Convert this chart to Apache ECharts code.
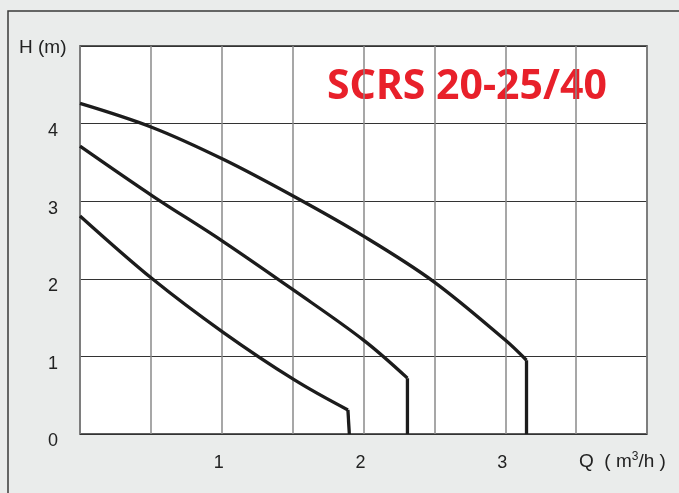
<!DOCTYPE html>
<html>
<head>
<meta charset="utf-8">
<title>SCRS 20-25/40</title>
<script src="https://cdn.jsdelivr.net/npm/echarts@6/dist/echarts.min.js"></script>
<style>
html, body { margin: 0; padding: 0; background: #eaeceb; }
#main { width: 679px; height: 493px; }
</style>
</head>
<body>
<div id="main"></div>
<script>
// tick labels that are printed
var xTickLabels = ['1', '2', '3'];
var yTickLabels = ['0', '1', '2', '3', '4'];

// [Q (m3/h), H (m)]
var speed3 = [[0, 4.26], [0.51, 3.95], [1.01, 3.54], [1.51, 3.06], [2.0, 2.55], [2.49, 1.97], [3.0, 1.21], [3.15, 0.95]];
var speed3Drop = [[3.15, 0.95], [3.15, 0]];
var speed2 = [[0, 3.71], [0.51, 3.07], [1.01, 2.48], [1.51, 1.85], [2.0, 1.21], [2.31, 0.72]];
var speed2Drop = [[2.31, 0.72], [2.31, 0]];
var speed1 = [[0, 2.81], [0.51, 2.0], [1.01, 1.31], [1.51, 0.70], [1.89, 0.31]];
var speed1Drop = [[1.89, 0.31], [1.9, 0]];

var chart = echarts.init(document.getElementById('main'));

var labelFont = 'Liberation Sans';
var curveStyle = { color: '#1c1c1c', width: 3.3 };

function curve(name, data, smooth) {
    return {
        name: name,
        type: 'line',
        data: data,
        smooth: smooth,
        symbol: 'none',
        lineStyle: curveStyle,
        silent: true
    };
}

var option = {
    animation: false,
    backgroundColor: '#eaeceb',
    grid: {
        left: 80, top: 46, right: 32, bottom: 59,
        show: true,
        backgroundColor: '#ffffff',
        borderColor: '#2a2a2a',
        borderWidth: 1.5
    },
    xAxis: {
        type: 'value',
        min: 0, max: 4, interval: 0.5,
        axisLine: { show: false },
        axisTick: { show: false },
        splitLine: { lineStyle: { color: '#8a8a8a', width: 1.5 } },
        axisLabel: {
            margin: 20,
            fontFamily: labelFont,
            fontSize: 18,
            color: '#222',
            padding: [0, 6, 0, 0],
            formatter: function (v) {
                var s = String(v);
                return xTickLabels.indexOf(s) >= 0 ? s : '';
            }
        }
    },
    yAxis: {
        type: 'value',
        min: 0, max: 5, interval: 1,
        axisLine: { show: false },
        axisTick: { show: false },
        splitLine: { lineStyle: { color: '#333333', width: 1.2 } },
        axisLabel: {
            margin: 22,
            fontFamily: labelFont,
            fontSize: 18,
            color: '#222',
            verticalAlign: 'top',
            lineHeight: 15,
            formatter: function (v) {
                var s = String(v);
                return yTickLabels.indexOf(s) >= 0 ? s : '';
            }
        }
    },
    graphic: [
        {
            type: 'polyline',
            shape: { points: [[8, 493], [8, 11], [679, 11]] },
            style: { stroke: '#3a3a3a', lineWidth: 1.5, fill: null },
            silent: true
        },
        {
            type: 'text',
            left: 19, top: 38,
            style: { text: 'H (m)', font: '19px "Liberation Sans"', fill: '#222' }
        },
        {
            type: 'text',
            left: 327, top: 67,
            style: { text: 'SCRS 20-25/40', font: 'bold 41px "Noto Sans"', fill: '#e8202a' }
        },
        {
            type: 'text',
            left: 579, top: 451,
            style: {
                text: 'Q  ( m{sup|3}/h )',
                font: '19px "Liberation Sans"',
                fill: '#222',
                rich: {
                    sup: { fontSize: 12, fontFamily: labelFont, fill: '#222', padding: [0, 0, 10, 0] }
                }
            }
        }
    ],
    series: [
        curve('top', speed3, 0.35),
        curve('top drop', speed3Drop, false),
        curve('middle', speed2, 0.35),
        curve('middle drop', speed2Drop, false),
        curve('bottom', speed1, 0.35),
        curve('bottom drop', speed1Drop, false)
    ]
};

chart.setOption(option);
</script>
</body>
</html>
